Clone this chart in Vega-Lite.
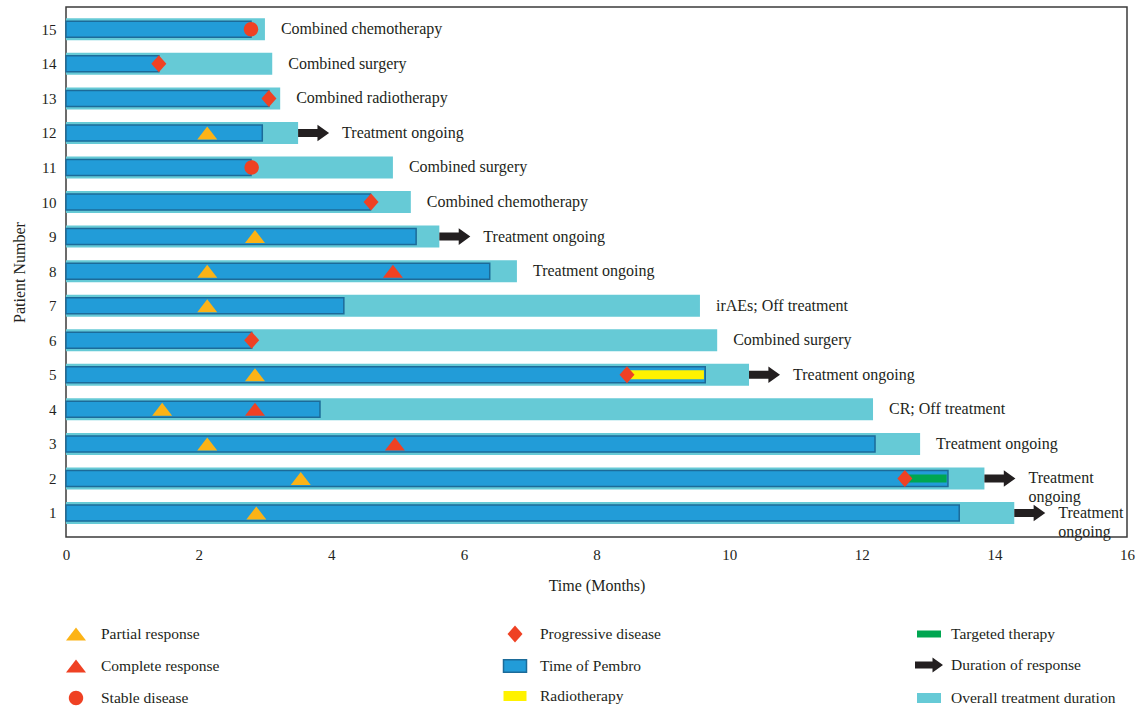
{
  "$schema": "https://vega.github.io/schema/vega-lite/v6.json",
  "width": 1061,
  "height": 530,
  "autosize": {"type": "none"},
  "padding": {"left": 66, "top": 7, "right": 10, "bottom": 170},
  "background": "white",
  "config": {
    "view": {"stroke": "#3b3b3b", "strokeWidth": 1.5},
    "font": "Liberation Serif",
    "axis": {
      "domain": false, "ticks": false, "grid": false, "labelFlush": false,
      "labelFont": "Liberation Serif", "labelFontSize": 15, "labelColor": "#231f20",
      "titleFont": "Liberation Serif", "titleFontSize": 16, "titleFontWeight": "normal", "titleColor": "#231f20"
    },
    "legend": {
      "labelFont": "Liberation Serif", "labelFontSize": 15.5, "labelColor": "#231f20", "labelLimit": 400,
      "symbolSize": 400, "padding": 0, "rowPadding": 11, "labelOffset": 14,
      "orient": "none", "direction": "vertical", "symbolOpacity": 1
    }
  },
  "datasets": {
    "patients": [
      {"patient": 15, "total": 3.0, "pembro": 2.79, "ongoing": false, "label": "Combined chemotherapy"},
      {"patient": 14, "total": 3.11, "pembro": 1.4, "ongoing": false, "label": "Combined surgery"},
      {"patient": 13, "total": 3.23, "pembro": 3.06, "ongoing": false, "label": "Combined radiotherapy"},
      {"patient": 12, "total": 3.5, "pembro": 2.96, "ongoing": true, "label": "Treatment ongoing"},
      {"patient": 11, "total": 4.93, "pembro": 2.79, "ongoing": false, "label": "Combined surgery"},
      {"patient": 10, "total": 5.2, "pembro": 4.59, "ongoing": false, "label": "Combined chemotherapy"},
      {"patient": 9, "total": 5.63, "pembro": 5.28, "ongoing": true, "label": "Treatment ongoing"},
      {"patient": 8, "total": 6.8, "pembro": 6.39, "ongoing": false, "label": "Treatment ongoing"},
      {"patient": 7, "total": 9.56, "pembro": 4.19, "ongoing": false, "label": "irAEs; Off treatment"},
      {"patient": 6, "total": 9.82, "pembro": 2.8, "ongoing": false, "label": "Combined surgery"},
      {"patient": 5, "total": 10.3, "pembro": 9.64, "ongoing": true, "label": "Treatment ongoing"},
      {"patient": 4, "total": 12.17, "pembro": 3.83, "ongoing": false, "label": "CR; Off treatment"},
      {"patient": 3, "total": 12.88, "pembro": 12.2, "ongoing": false, "label": "Treatment ongoing"},
      {"patient": 2, "total": 13.85, "pembro": 13.3, "ongoing": true, "label": "Treatment\nongoing"},
      {"patient": 1, "total": 14.3, "pembro": 13.47, "ongoing": true, "label": "Treatment\nongoing"}
    ],
    "therapies": [
      {"patient": 5, "start": 8.46, "end": 9.62, "therapy": "Radiotherapy"},
      {"patient": 2, "start": 12.65, "end": 13.28, "therapy": "Targeted therapy"}
    ],
    "events": [
      {"patient": 12, "time": 2.13, "event": "Partial response"},
      {"patient": 9, "time": 2.85, "event": "Partial response"},
      {"patient": 8, "time": 2.13, "event": "Partial response"},
      {"patient": 7, "time": 2.13, "event": "Partial response"},
      {"patient": 5, "time": 2.85, "event": "Partial response"},
      {"patient": 4, "time": 1.45, "event": "Partial response"},
      {"patient": 3, "time": 2.13, "event": "Partial response"},
      {"patient": 2, "time": 3.54, "event": "Partial response"},
      {"patient": 1, "time": 2.87, "event": "Partial response"},
      {"patient": 8, "time": 4.93, "event": "Complete response"},
      {"patient": 4, "time": 2.85, "event": "Complete response"},
      {"patient": 3, "time": 4.96, "event": "Complete response"},
      {"patient": 15, "time": 2.79, "event": "Stable disease"},
      {"patient": 11, "time": 2.8, "event": "Stable disease"},
      {"patient": 14, "time": 1.4, "event": "Progressive disease"},
      {"patient": 13, "time": 3.06, "event": "Progressive disease"},
      {"patient": 10, "time": 4.6, "event": "Progressive disease"},
      {"patient": 6, "time": 2.8, "event": "Progressive disease"},
      {"patient": 5, "time": 8.46, "event": "Progressive disease"},
      {"patient": 2, "time": 12.65, "event": "Progressive disease"}
    ]
  },
  "encoding": {
    "y": {
      "field": "patient", "type": "quantitative",
      "scale": {"domain": [0.45, 15.5], "nice": false, "zero": false},
      "axis": {"values": [1,2,3,4,5,6,7,8,9,10,11,12,13,14,15], "format": "d", "labelPadding": 10, "titlePadding": 14},
      "title": "Patient Number"
    }
  },
  "layer": [
    {
      "layer": [
        {
          "data": {"name": "patients"},
          "mark": {"type": "bar", "height": 22},
          "encoding": {
            "x": {"field": "total", "type": "quantitative", "scale": {"domain": [0, 16], "nice": false}, "axis": {"values": [0,2,4,6,8,10,12,14,16], "format": "d", "labelPadding": 10, "titlePadding": 15, "labelFlush": false}, "title": "Time (Months)"},
            "x2": {"datum": 0},
            "color": {
              "datum": "Overall treatment duration", "type": "nominal",
              "scale": {"domain": ["Targeted therapy", "Duration of response", "Overall treatment duration"], "range": ["#00a651", "#231f20", "#66cad6"]},
              "legend": {"title": null, "legendX": 852, "legendY": 616, "labelOffset": 11}
            }
          }
        },
        {
          "data": {"name": "patients"},
          "transform": [{"filter": "datum.ongoing"}],
          "mark": {"type": "point", "filled": true, "opacity": 1, "size": 490, "xOffset": 15.5, "strokeWidth": 0},
          "encoding": {
            "x": {"field": "total", "type": "quantitative", "title": "Time (Months)"},
            "color": {
              "datum": "Duration of response", "type": "nominal",
              "scale": {"domain": ["Targeted therapy", "Duration of response", "Overall treatment duration"], "range": ["#00a651", "#231f20", "#66cad6"]},
              "legend": {"title": null, "legendX": 852, "legendY": 616, "labelOffset": 11}
            },
            "shape": {
              "datum": "Duration of response", "type": "nominal",
              "scale": {"domain": ["Targeted therapy", "Duration of response", "Overall treatment duration"], "range": ["M-1.2,-0.35L1.2,-0.35L1.2,0.35L-1.2,0.35Z", "M-1.4,-0.36L0.35,-0.36L0.35,-0.75L1.4,0L0.35,0.75L0.35,0.36L-1.4,0.36Z", "M-1.2,-0.5L1.2,-0.5L1.2,0.5L-1.2,0.5Z"]},
              "legend": {"title": null, "legendX": 852, "legendY": 616, "labelOffset": 11}
            }
          }
        }
      ]
    },
    {
      "layer": [
        {
          "data": {"name": "patients"},
          "mark": {"type": "bar", "height": 16, "strokeWidth": 1.5},
          "encoding": {
            "x": {"field": "pembro", "type": "quantitative", "title": "Time (Months)"},
            "x2": {"datum": 0},
            "color": {
              "datum": "Time of Pembro", "type": "nominal",
              "scale": {"domain": ["Progressive disease", "Time of Pembro", "Radiotherapy"], "range": ["#ef4123", "#229cd8", "#fff200"]},
              "legend": {"title": null, "legendX": 438, "legendY": 616, "symbolStrokeWidth": 1.5, "rowPadding": 9}
            },
            "stroke": {
              "datum": "Time of Pembro", "type": "nominal",
              "scale": {"domain": ["Progressive disease", "Time of Pembro", "Radiotherapy"], "range": ["transparent", "#1c6b99", "transparent"]},
              "legend": {"title": null, "legendX": 438, "legendY": 616, "symbolStrokeWidth": 1.5, "rowPadding": 9}
            }
          }
        },
        {
          "data": {"name": "therapies"},
          "transform": [{"filter": "datum.therapy === 'Radiotherapy'"}],
          "mark": {"type": "bar", "height": 9},
          "encoding": {
            "x": {"field": "start", "type": "quantitative", "title": "Time (Months)"},
            "x2": {"field": "end"},
            "color": {
              "datum": "Radiotherapy", "type": "nominal",
              "scale": {"domain": ["Progressive disease", "Time of Pembro", "Radiotherapy"], "range": ["#ef4123", "#229cd8", "#fff200"]},
              "legend": {"title": null, "legendX": 438, "legendY": 616, "symbolStrokeWidth": 1.5, "rowPadding": 9}
            }
          }
        },
        {
          "data": {"name": "therapies"},
          "transform": [{"filter": "datum.therapy === 'Targeted therapy'"}],
          "mark": {"type": "bar", "height": 8, "color": "#00a651"},
          "encoding": {
            "x": {"field": "start", "type": "quantitative", "title": "Time (Months)"},
            "x2": {"field": "end"}
          }
        },
        {
          "data": {"name": "events"},
          "transform": [{"filter": "datum.event === 'Progressive disease'"}],
          "mark": {"type": "point", "filled": true, "opacity": 1, "size": 400, "strokeWidth": 0},
          "encoding": {
            "x": {"field": "time", "type": "quantitative", "title": "Time (Months)"},
            "color": {
              "field": "event", "type": "nominal",
              "scale": {"domain": ["Progressive disease", "Time of Pembro", "Radiotherapy"], "range": ["#ef4123", "#229cd8", "#fff200"]},
              "legend": {"title": null, "legendX": 438, "legendY": 616, "symbolStrokeWidth": 1.5, "rowPadding": 9}
            },
            "shape": {
              "field": "event", "type": "nominal",
              "scale": {"domain": ["Progressive disease", "Time of Pembro", "Radiotherapy"], "range": ["M0,-0.85L0.75,0L0,0.85L-0.75,0Z", "M-1.15,-0.62L1.15,-0.62L1.15,0.62L-1.15,0.62Z", "M-1.15,-0.5L1.15,-0.5L1.15,0.5L-1.15,0.5Z"]},
              "legend": {"title": null, "legendX": 438, "legendY": 616, "symbolStrokeWidth": 1.5, "rowPadding": 9}
            }
          }
        }
      ]
    },
    {
      "data": {"name": "events"},
      "transform": [{"filter": "datum.event !== 'Progressive disease'"}],
      "mark": {"type": "point", "filled": true, "opacity": 1, "size": 400, "strokeWidth": 0},
      "encoding": {
        "x": {"field": "time", "type": "quantitative", "title": "Time (Months)"},
        "color": {
          "field": "event", "type": "nominal",
          "scale": {"domain": ["Partial response", "Complete response", "Stable disease"], "range": ["#fcb316", "#ef4123", "#ef4123"]},
          "legend": {"title": null, "legendX": -1, "legendY": 616}
        },
        "shape": {
          "field": "event", "type": "nominal",
          "scale": {"domain": ["Partial response", "Complete response", "Stable disease"], "range": ["M0,-0.65L1,0.65L-1,0.65Z", "M0,-0.65L1,0.65L-1,0.65Z", "M-0.72,0A0.72,0.72,0,1,0,0.72,0A0.72,0.72,0,1,0,-0.72,0Z"]},
          "legend": {"title": null, "legendX": -1, "legendY": 616}
        }
      }
    },
    {
      "data": {"name": "patients"},
      "transform": [{"filter": "!datum.ongoing"}],
      "mark": {"type": "text", "align": "left", "baseline": "middle", "dx": 16, "fontSize": 16, "font": "Liberation Serif", "color": "#231f20", "lineBreak": "\n"},
      "encoding": {
        "x": {"field": "total", "type": "quantitative", "title": "Time (Months)"},
        "text": {"field": "label"}
      }
    },
    {
      "data": {"name": "patients"},
      "transform": [{"filter": "datum.ongoing"}],
      "mark": {"type": "text", "align": "left", "baseline": "middle", "dx": 44, "fontSize": 16, "font": "Liberation Serif", "color": "#231f20", "lineBreak": "\n", "lineHeight": 19},
      "encoding": {
        "x": {"field": "total", "type": "quantitative", "title": "Time (Months)"},
        "text": {"field": "label"}
      }
    }
  ],
  "resolve": {
    "scale": {"color": "independent", "shape": "independent", "stroke": "independent"},
    "legend": {"color": "independent", "shape": "independent", "stroke": "independent"}
  }
}
